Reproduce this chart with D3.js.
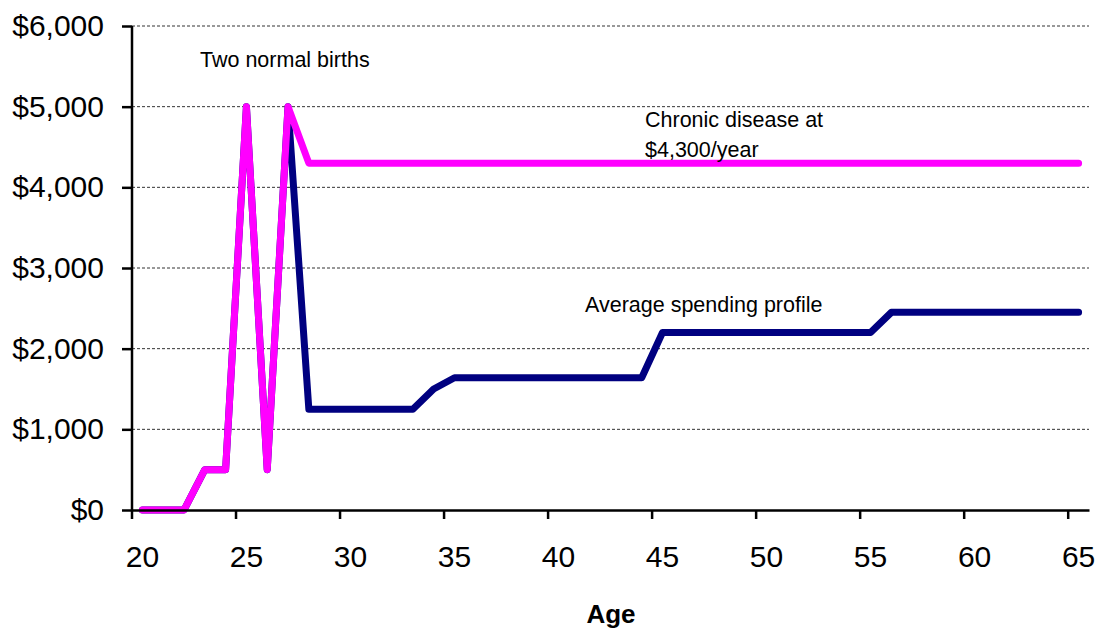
<!DOCTYPE html>
<html>
<head>
<meta charset="utf-8">
<script src="https://cdn.jsdelivr.net/npm/d3@7"></script>
<style>
  body { margin: 0; background: #fff; }
  text { font-family: "Liberation Sans", Arial, sans-serif; fill: #000; }
  .grid line { stroke: #333; stroke-width: 1; stroke-dasharray: 3,2; }
</style>
</head>
<body>
<script>
var width = 1101,
    height = 630;

var margin = {top: 26, right: 11, bottom: 120, left: 132},
    graphWidth = width - margin.left - margin.right,
    graphHeight = height - margin.top - margin.bottom;

// data
var ages = d3.range(20, 66);
var averageSpending = [0, 0, 0, 500, 500, 5000, 500, 5000,
  1250, 1250, 1250, 1250, 1250, 1250, 1500, 1640,
  1640, 1640, 1640, 1640, 1640, 1640, 1640, 1640, 1640,
  2200, 2200, 2200, 2200, 2200, 2200, 2200, 2200, 2200, 2200, 2200,
  2450, 2450, 2450, 2450, 2450, 2450, 2450, 2450, 2450, 2450];
var chronicDisease = [0, 0, 0, 500, 500, 5000, 500, 5000,
  4300, 4300, 4300, 4300, 4300, 4300, 4300, 4300, 4300, 4300, 4300, 4300,
  4300, 4300, 4300, 4300, 4300, 4300, 4300, 4300, 4300, 4300, 4300, 4300,
  4300, 4300, 4300, 4300, 4300, 4300, 4300, 4300, 4300, 4300, 4300, 4300,
  4300, 4300];
var xTickAges = [20, 25, 30, 35, 40, 45, 50, 55, 60, 65];
var yTicks = [0, 1000, 2000, 3000, 4000, 5000, 6000];
var annotations = [
  {text: "Two normal births", x: 200, y: 67},
  {text: "Chronic disease at", x: 645, y: 127},
  {text: "$4,300/year", x: 645, y: 157},
  {text: "Average spending profile", x: 585, y: 312}
];

var svg = d3.select("body").append("svg")
  .attr("width", width)
  .attr("height", height);

var g = svg.append("g")
  .attr("transform", "translate(" + margin.left + "," + margin.top + ")");

var xScale = d3.scaleBand()
  .domain(ages)
  .range([0, 957])
  .padding(0);

var yScale = d3.scaleLinear()
  .domain([0, 6000])
  .range([graphHeight, 0]);

// gridlines
g.append("g")
  .attr("class", "grid")
  .selectAll("line")
  .data(yTicks.filter(function(d){ return d > 0; }))
  .enter().append("line")
    .attr("x1", 0)
    .attr("x2", 957)
    .attr("y1", function(d){ return yScale(d); })
    .attr("y2", function(d){ return yScale(d); });

// lines
var line = function(values) {
  return d3.line()
    .x(function(d, i){ return xScale(ages[i]) + xScale.bandwidth() / 2; })
    .y(function(d){ return yScale(d); })(values);
};

g.append("path")
  .attr("d", line(averageSpending))
  .attr("fill", "none")
  .attr("stroke", "#000080")
  .attr("stroke-width", 7)
  .attr("stroke-linejoin", "round")
  .attr("stroke-linecap", "round");

g.append("path")
  .attr("d", line(chronicDisease))
  .attr("fill", "none")
  .attr("stroke", "#ff00ff")
  .attr("stroke-width", 7)
  .attr("stroke-linejoin", "round")
  .attr("stroke-linecap", "round");

// y axis
var yAxis = g.append("g")
  .call(d3.axisLeft(yScale)
    .tickValues(yTicks)
    .tickSize(10)
    .tickPadding(18)
    .tickFormat(function(d){ return "$" + d3.format(",")(d); }));
yAxis.select(".domain").attr("stroke", "#000").attr("stroke-width", 2.5)
  .attr("d", "M0," + graphHeight + "V0");
yAxis.selectAll(".tick line").attr("stroke", "#000").attr("stroke-width", 2.5);
yAxis.selectAll("text")
  .style("font-size", "30px")
  .attr("fill", "#000");

// x axis: tick marks on category edges, labels centred on categories
var xAxis = g.append("g")
  .attr("transform", "translate(0," + graphHeight + ")")
  .call(d3.axisBottom(xScale)
    .tickValues(xTickAges)
    .tickSize(9)
    .tickPadding(27)
    .tickSizeOuter(0));
xAxis.selectAll(".tick").attr("transform", function(d){
  return "translate(" + xScale(d) + ",0)";
});
xAxis.select(".domain").attr("stroke", "#000").attr("stroke-width", 2.5);
xAxis.selectAll(".tick line").attr("stroke", "#000").attr("stroke-width", 2.5);
xAxis.selectAll("text")
  .attr("x", xScale.bandwidth() / 2)
  .style("font-size", "30px")
  .attr("fill", "#000");

// axis title
svg.append("text")
  .attr("x", 611)
  .attr("y", 623)
  .attr("text-anchor", "middle")
  .style("font-size", "26px")
  .style("font-weight", "bold")
  .text("Age");

// annotations
svg.selectAll(".note")
  .data(annotations)
  .enter().append("text")
    .attr("class", "note")
    .attr("x", function(d){ return d.x; })
    .attr("y", function(d){ return d.y; })
    .style("font-size", "21.5px")
    .text(function(d){ return d.text; });
</script>
</body>
</html>
